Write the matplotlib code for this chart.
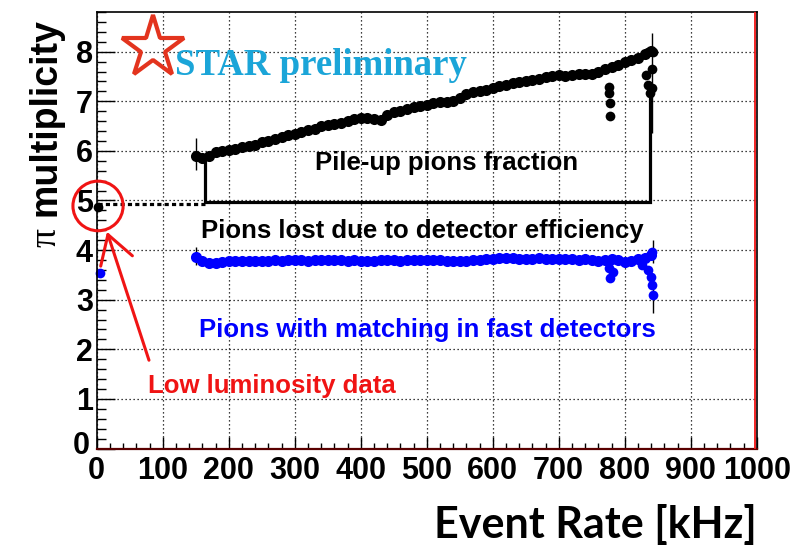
import numpy as np
import matplotlib
matplotlib.use('Agg')
import matplotlib.pyplot as plt
from matplotlib import font_manager
from matplotlib.patches import Ellipse
from matplotlib.ticker import MultipleLocator
from matplotlib.transforms import ScaledTranslation


def has_font(name):
    try:
        font_manager.findfont(name, fallback_to_default=False)
        return True
    except ValueError:
        return False


# pion multiplicity vs event rate, high-rate running
rate = [150, 160, 170, 180, 190, 200, 210, 220, 230, 240,
        250, 260, 270, 280, 290, 300, 310, 320, 330, 340,
        350, 360, 370, 380, 390, 400, 410, 420, 430, 440,
        450, 460, 470, 480, 490, 500, 510, 520, 530, 540,
        550, 560, 570, 580, 590, 600, 610, 620, 630, 640,
        650, 660, 670, 680, 690, 700, 710, 720, 730, 740,
        750, 760, 770, 780, 790, 800, 810, 820, 830, 840]

# all reconstructed pions
mult_all = [5.90, 5.85, 5.90, 5.97, 6.00, 6.02, 6.04, 6.07, 6.10, 6.12,
            6.17, 6.20, 6.24, 6.28, 6.32, 6.35, 6.38, 6.42, 6.45, 6.50,
            6.53, 6.55, 6.57, 6.60, 6.64, 6.66, 6.67, 6.65, 6.62, 6.72,
            6.78, 6.80, 6.84, 6.88, 6.90, 6.93, 6.96, 6.98, 6.99, 7.01,
            7.06, 7.15, 7.19, 7.20, 7.22, 7.26, 7.30, 7.33, 7.36, 7.38,
            7.40, 7.42, 7.45, 7.48, 7.50, 7.52, 7.51, 7.53, 7.55, 7.56,
            7.55, 7.60, 7.66, 7.70, 7.74, 7.80, 7.83, 7.88, 7.95, 8.02]

# pions matched in fast detectors
mult_fast = [3.87, 3.78, 3.74, 3.74, 3.76, 3.77, 3.78, 3.78, 3.77, 3.78,
             3.79, 3.78, 3.80, 3.79, 3.80, 3.81, 3.80, 3.79, 3.80, 3.81,
             3.80, 3.81, 3.80, 3.79, 3.80, 3.78, 3.77, 3.79, 3.80, 3.81,
             3.80, 3.79, 3.80, 3.81, 3.80, 3.80, 3.80, 3.80, 3.78, 3.77,
             3.78, 3.79, 3.80, 3.81, 3.82, 3.83, 3.84, 3.85, 3.84, 3.83,
             3.82, 3.83, 3.84, 3.83, 3.82, 3.82, 3.83, 3.82, 3.81, 3.82,
             3.80, 3.78, 3.80, 3.82, 3.80, 3.75, 3.78, 3.82, 3.85, 3.90]

# scattered runs off the trend
out_rate_all = [776, 776, 777, 778, 832, 836, 838, 841, 842, 836, 843]
out_all = [7.29, 7.16, 6.96, 6.71, 7.53, 7.33, 7.17, 7.27, 7.65, 8.00, 8.00]
out_rate_fast = [776, 778, 782, 826, 836, 840, 842, 843, 842]
out_fast = [3.63, 3.43, 3.55, 3.70, 3.60, 3.46, 3.30, 3.10, 3.97]

# error bars (rate, low, high)
err_rate_all = [151, 842]
err_lo_all = [5.61, 6.36]
err_hi_all = [6.26, 8.38]
err_rate_fast = [151, 843, 843]
err_lo_fast = [3.70, 3.74, 2.73]
err_hi_fast = [4.07, 4.20, 3.49]

# low luminosity reference
low_rate_all, low_all = 2, 4.86
low_rate_fast, low_fast = 5, 3.54
level = 4.93
bracket_left, bracket_right = 164, 838
bracket_top_left, bracket_top_right = 5.92, 7.10

black = '#000000'
blue = '#0000ff'
red = '#f01414'
star_red = '#e3341e'
star_blue = '#1ba5d8'

tick_family = 'Liberation Sans Narrow' if has_font('Liberation Sans Narrow') else 'Liberation Sans'
tick_size = 23.5 if tick_family == 'Liberation Sans Narrow' else 22
l_size = 18.5

fig = plt.figure(figsize=(7.97, 5.55), dpi=100)
ax = fig.add_axes([0.12133, 0.19189, 0.82811, 0.78649])

ax.set_xlim(0, 1000)
ax.set_ylim(0, 8.8)
ax.xaxis.set_major_locator(MultipleLocator(100))
ax.xaxis.set_minor_locator(MultipleLocator(20))
ax.yaxis.set_major_locator(MultipleLocator(1))
ax.yaxis.set_minor_locator(MultipleLocator(0.2))
ax.grid(True, which='major', color='black', linestyle=(0, (1, 2.2)), linewidth=0.9)
ax.set_axisbelow(True)

ax.tick_params(axis='x', which='major', direction='in', length=8.6, width=1, pad=5.5)
ax.tick_params(axis='x', which='minor', direction='in', length=4.3, width=1)
ax.tick_params(axis='y', which='major', direction='in', length=13, width=1, pad=2.7)
ax.tick_params(axis='y', which='minor', direction='in', length=6.5, width=1)
for lab in ax.get_xticklabels() + ax.get_yticklabels():
    lab.set_family(tick_family)
    lab.set_fontweight('bold')
    lab.set_fontsize(tick_size)

# lift the y "0" a little so it clears the x "0"
for tick in ax.yaxis.get_major_ticks():
    if abs(tick.get_loc()) < 1e-9:
        tick.label1.set_transform(tick.label1.get_transform()
                                  + ScaledTranslation(-2 / 72, 4 / 72, fig.dpi_scale_trans))

for s in ['left', 'top', 'right']:
    ax.spines[s].set_linewidth(1.2)
ax.spines['bottom'].set_linewidth(1.6)
ax.spines['bottom'].set_color('#5a0000')
ax.axvline(997.3, color=red, linewidth=1.3, zorder=5)

# bracket and dotted reference level
ax.plot([low_rate_all, bracket_left], [level, level], color=black,
        linewidth=2.3, linestyle=(0, (1.3, 1.0)), dash_capstyle='butt')
ax.plot([bracket_left, bracket_left, bracket_right, bracket_right],
        [bracket_top_left, level + 0.03, level + 0.03, bracket_top_right],
        color=black, linewidth=2.3, solid_joinstyle='miter')

# error bars
ax.vlines(err_rate_all, err_lo_all, err_hi_all, color=black, linewidth=1)
ax.vlines(err_rate_fast, err_lo_fast, err_hi_fast, color=black, linewidth=1)

# data points
m_size = 8
ax.plot(rate, mult_all, 'o', color=black, ms=m_size, mew=0, clip_on=False)
ax.plot(out_rate_all, out_all, 'o', color=black, ms=m_size - 1, mew=0)
ax.plot([low_rate_all], [low_all], 'o', color=black, ms=m_size - 1, mew=0, clip_on=False)
ax.plot(rate, mult_fast, 'o', color=blue, ms=m_size, mew=0)
ax.plot(out_rate_fast, out_fast, 'o', color=blue, ms=m_size - 1, mew=0)
ax.plot([low_rate_fast], [low_fast], 'o', color=blue, ms=m_size - 1, mew=0, clip_on=False)

# labels inside the frame
ax.text(530, 5.61, 'Pile-up pions fraction', fontsize=l_size, weight='bold',
        family='Liberation Sans', ha='center', va='baseline', color=black)
ax.text(493, 4.25, 'Pions lost due to detector efficiency', fontsize=l_size,
        weight='bold', family='Liberation Sans', ha='center', va='baseline', color=black)
ax.text(501, 2.25, 'Pions with matching in fast detectors', fontsize=l_size,
        weight='bold', family='Liberation Sans', ha='center', va='baseline', color=blue)
ax.text(77.3, 1.12, 'Low luminosity data', fontsize=l_size, weight='bold',
        family='Liberation Sans', ha='left', va='baseline', color=red)

# circle and arrow on the low luminosity points
ax.add_patch(Ellipse((2, 4.89), 76, 1.0, fill=False, edgecolor=red,
                     linewidth=2.2, clip_on=False, zorder=6))
ax.annotate('', xy=(15.6, 4.37), xytext=(79.2, 1.78),
            arrowprops=dict(arrowstyle='->, head_length=2.0, head_width=1.2',
                            mutation_scale=10, color=red, linewidth=2.2,
                            shrinkA=0, shrinkB=0), annotation_clip=False)

# STAR preliminary logo
ax.plot([153 / 797], [1 - 48 / 555], transform=fig.transFigure, marker='*',
        ms=47, mfc='none', mec=star_red, mew=3.0, clip_on=False)
fig.text(175 / 797, 1 - 75 / 555, 'STAR preliminary', fontsize=26.5, weight='bold',
         family='Liberation Serif', color=star_blue, ha='left', va='baseline')

# axis titles
fig.text(46 / 797, 1 - 117 / 555, 'multiplicity', fontsize=27, weight='bold',
         family='Liberation Sans', rotation=90, ha='center', va='center')
fig.text(46 / 797, 1 - 237 / 555, '\u03c0', fontsize=27, family='Liberation Serif',
         rotation=90, ha='center', va='center')
fig.text(757 / 797, 1 - 538 / 555, 'Event Rate [kHz]', fontsize=31, weight='bold',
         family='Lato', ha='right', va='baseline')

fig.savefig('out.png', dpi=100)
